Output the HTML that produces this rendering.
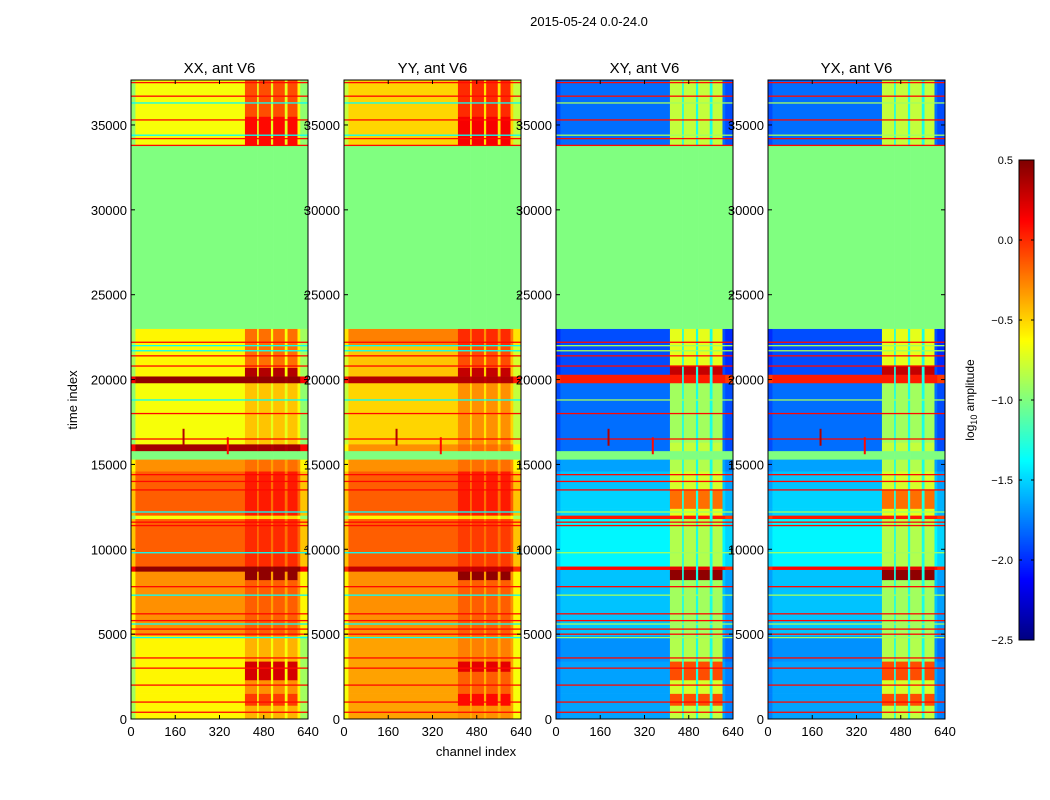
<!DOCTYPE html>
<html><head><meta charset="utf-8">
<style>
body{margin:0;background:#fff;}
svg{display:block;font-family:"Liberation Sans",sans-serif;}
</style></head>
<body>
<svg id="chart" width="1050" height="800" viewBox="0 0 1050 800">
<rect width="1050" height="800" fill="#fff"/>
<text x="589" y="26" font-size="13" text-anchor="middle">2015-05-24 0.0-24.0</text>
<text x="476" y="756" font-size="13" text-anchor="middle">channel index</text>
<text x="77" y="400" font-size="13" text-anchor="middle" transform="rotate(-90 77 400)">time index</text>
<g id="panels"></g>
<g id="cbar"></g>
</svg>
<script>
// ---- data ----
const panelTitles = ["XX, ant V6","YY, ant V6","XY, ant V6","YX, ant V6"];
const xTicks = [0,160,320,480,640];
const yTicks = [0,5000,10000,15000,20000,25000,30000,35000];
const cbarTicks = [-2.5,-2.0,-1.5,-1.0,-0.5,0.0,0.5];
const channelBlocks = [[412,456],[462,506],[514,556],[566,602]];
// bands: [tStart, tEnd, baseValue, blockValue]
const bandsXX = [[0,800,-0.6,-0.4],[800,1500,-0.6,-0.05],[1500,2300,-0.6,-0.3],[2300,3400,-0.6,0.25],[3400,4900,-0.6,-0.4],
 [4900,8200,-0.3,-0.15],[8200,8700,-0.3,0.45],[8700,9000,0.45,0.45],[9000,11800,-0.15,0.0],[11800,12000,-0.65,-0.5],
 [12000,14600,-0.15,0.05],[14600,15300,-0.3,-0.2],[15300,15800,-1.0,-1.0],[15800,16200,0.4,0.4],[16200,19800,-0.65,-0.45],
 [19800,20200,0.45,0.45],[20200,20700,-0.6,0.35],[20700,23000,-0.6,-0.2],[23000,33800,-1.0,-1.0],[33800,35500,-0.65,0.1],[35500,37650,-0.65,-0.1]];
const bandsYY = [[0,800,-0.35,-0.3],[800,1500,-0.35,0.1],[1500,2800,-0.35,-0.15],[2800,3400,-0.35,0.2],[3400,4900,-0.35,-0.25],
 [4900,8200,-0.3,-0.15],[8200,8700,-0.3,0.45],[8700,9000,0.3,0.3],[9000,11800,-0.15,-0.05],[11800,12000,-0.6,-0.5],
 [12000,14600,-0.15,0.05],[14600,15300,-0.3,-0.2],[15300,15800,-1.0,-1.0],[15800,16200,-0.3,-0.2],[16200,19800,-0.5,-0.3],
 [19800,20200,0.35,0.35],[20200,20700,-0.45,0.3],[20700,22000,-0.45,-0.1],[22000,23000,-0.25,0.0],[23000,33800,-1.0,-1.0],[33800,35500,-0.5,0.15],[35500,37650,-0.5,0.0]];
const bandsXY = [[0,800,-1.65,-0.8],[800,1500,-1.65,-0.1],[1500,2300,-1.65,-0.75],[2300,3400,-1.65,-0.1],[3400,4900,-1.7,-0.85],
 [4900,8200,-1.55,-0.9],[8200,8800,-1.55,0.45],[8800,9000,0.1,0.2],[9000,11800,-1.4,-0.85],[11800,12000,0.05,0.05],
 [12000,12400,-1.5,-0.7],[12400,13500,-1.5,-0.2],[13500,14600,-1.55,-0.75],[14600,15300,-1.65,-0.85],[15300,15800,-1.0,-1.0],
 [15800,16300,-1.8,-0.8],[16300,19800,-1.8,-0.9],[19800,20300,0.05,0.05],[20300,20800,-1.9,0.3],[20800,23000,-1.9,-0.7],
 [23000,33800,-1.0,-1.0],[33800,37650,-1.8,-0.8]];
// thin horizontal lines: [t, kind] kind 1=red, 0=cyan
const hLines = [[400,1],[1000,1],[2000,1],[3000,1],[3600,1],[4800,0],[5000,1],[5300,1],[5600,0],[5800,1],[6200,1],[7300,0],[7800,1],
 [9800,0],[11400,1],[11600,1],[12200,0],[13500,1],[14000,1],[14400,1],[16500,1],[18000,1],[18800,0],[20800,1],[21400,1],
 [21700,0],[22000,0],[22200,1],[33800,1],[34200,1],[34400,0],[35300,1],[36300,0],[36700,1],[37500,1]];
// features: [channel, tStart, tEnd, value]
const features = [[190,16100,17100,0.35],[350,15600,16600,0.1]];
const panelBands = [bandsXX,bandsYY,bandsXY,bandsXY];
const panelX = [131,344,556,768];
// ---- scales ----
const PW=177, TOP=80, BOT=719, TMAX=37650, CMAX=640;
const xs=(p,c)=>panelX[p]+c/CMAX*PW;
const ys=t=>BOT-t/TMAX*(BOT-TOP);
function jet(v){let f=(v+2.5)/3;f=Math.max(0,Math.min(1,f));
 const cl=x=>Math.round(255*Math.max(0,Math.min(1,x)));
 return `rgb(${cl(1.5-Math.abs(4*f-3))},${cl(1.5-Math.abs(4*f-2))},${cl(1.5-Math.abs(4*f-1))})`;}
const NS="http://www.w3.org/2000/svg";
function mk(tag,attrs,parent){const e=document.createElementNS(NS,tag);for(const k in attrs)e.setAttribute(k,attrs[k]);parent.appendChild(e);return e;}
const G=document.getElementById('panels');
panelBands.forEach((bands,p)=>{
 const g=mk('g',{},G);
 
 
 const cross=p>=2;
 bands.forEach(b=>{
  const y0=ys(b[1]),y1=ys(b[0]);
  const segs=[[0,16,b[2]+(b[2]===-1?0:(cross?-0.1:-0.3))],[16,412,b[2]]];
  let prev=412;
  channelBlocks.forEach(cb=>{ if(cb[0]>prev) segs.push([prev,cb[0],b[2]===-1?-1:(cross?-1.3:b[2]-0.05)]);
    segs.push([cb[0],cb[1],b[3]]); prev=cb[1];});
  segs.push([prev,612,b[2]]);
  segs.push([612,640,b[2]===-1?-1:b[2]+(cross?-0.1:-0.3)]);
  segs.forEach(s=>{const r=mk('rect',{x:xs(p,s[0]),y:y0,width:xs(p,s[1])-xs(p,s[0])+0.3,height:y1-y0+0.3,fill:jet(s[2])},g);
   
   });
 });
 hLines.forEach(h=>{const y=ys(h[0]);
  const v=h[1]?0.1:(cross?-0.9:-1.35);
  const l=mk('rect',{x:panelX[p],y:y-0.6,width:PW,height:1.3,fill:jet(v)},g);
  
  });
 features.forEach(f=>{const r=mk('rect',{x:xs(p,f[0])-1,y:ys(f[2]),width:2,height:ys(f[1])-ys(f[2]),fill:jet(f[3])},g);
  
  });
 const fr=mk('rect',{x:panelX[p],y:TOP,width:PW,height:BOT-TOP,fill:'none',stroke:'#000','stroke-width':1},g);
 
 
 const tt=mk('text',{x:panelX[p]+PW/2,y:73,'font-size':15,'text-anchor':'middle'},g);
 tt.textContent=panelTitles[p];
 
 
 xTicks.forEach(c=>{const x=xs(p,c);
  mk('line',{x1:x,x2:x,y1:BOT,y2:BOT-4,stroke:'#000'},g);mk('line',{x1:x,x2:x,y1:TOP,y2:TOP+4,stroke:'#000'},g);
  const t=mk('text',{x:x,y:BOT+17,'font-size':13,'text-anchor':'middle'},g);t.textContent=c;
  
  });
 yTicks.forEach(v=>{const y=ys(v);
  mk('line',{x1:panelX[p],x2:panelX[p]+4,y1:y,y2:y,stroke:'#000'},g);mk('line',{x1:panelX[p]+PW,x2:panelX[p]+PW-4,y1:y,y2:y,stroke:'#000'},g);
  const t=mk('text',{x:panelX[p]-4,y:y+5,'font-size':13,'text-anchor':'end'},g);t.textContent=v;
  
  });
});
// colorbar
const C=document.getElementById('cbar');
const CB={x:1019,w:15,y0:160,y1:640};
const cy=v=>CB.y1-(v+2.5)/3*(CB.y1-CB.y0);
for(let i=0;i<240;i++){const v=-2.5+3*i/240;const r=mk('rect',{x:CB.x,y:cy(v+3/240),width:CB.w,height:(CB.y1-CB.y0)/240+0.4,fill:jet(v+1.5/240)},C);
 
 }
const cf=mk('rect',{x:CB.x,y:CB.y0,width:CB.w,height:CB.y1-CB.y0,fill:'none',stroke:'#000'},C);


cbarTicks.forEach(v=>{const y=cy(v);
 mk('line',{x1:CB.x,x2:CB.x+3,y1:y,y2:y,stroke:'#000'},C);mk('line',{x1:CB.x+CB.w,x2:CB.x+CB.w-3,y1:y,y2:y,stroke:'#000'},C);
 const t=mk('text',{x:1013,y:y+4,'font-size':11,'text-anchor':'end'},C);t.textContent=(v<0?'\u2212':'')+Math.abs(v).toFixed(1);
 
 });
const lab=mk('text',{x:974,y:400,'font-size':12,'text-anchor':'middle',transform:'rotate(-90 974 400)'},C);
lab.innerHTML='log<tspan font-size="9" dy="3">10</tspan><tspan dy="-3"> amplitude</tspan>';


</script>
</body></html>
